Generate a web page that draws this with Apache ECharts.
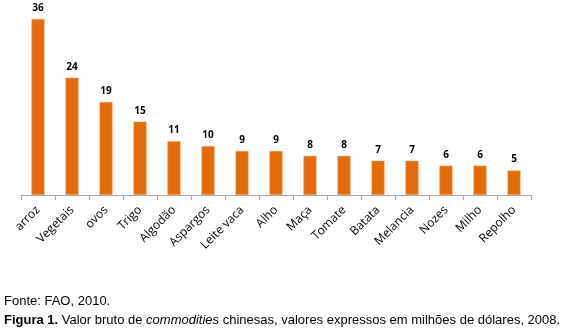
<!DOCTYPE html>
<html><head><meta charset="utf-8">
<script src="https://cdn.jsdelivr.net/npm/echarts@6/dist/echarts.min.js"></script>
<style>html,body{margin:0;padding:0;background:#fff}#c{width:577px;height:331px}</style>
</head><body><div id="c"></div>
<script>
const categories = ['arroz','Vegetais','ovos','Trigo','Algodão','Aspargos','Leite vaca','Alho','Maça','Tomate','Batata','Melancia','Nozes','Milho','Repolho'];
const values = [36,24,19,15,11,10,9,9,8,8,7,7,6,6,5];

const chart = echarts.init(document.getElementById('c'));
chart.setOption({
  animation:false,
  grid:{left:21,right:46,top:19,bottom:136,containLabel:false},
  xAxis:{type:'category',data:categories,
    axisLine:{lineStyle:{color:'#a6a6a6'}},
    axisTick:{show:true,length:5,lineStyle:{color:'#a6a6a6'}},
    axisLabel:{rotate:45,interval:0,fontFamily:'Open Sans',fontSize:12,color:'#000',margin:13,padding:[0,0,0,0]}},
  yAxis:{type:'value',min:0,max:36,show:false,splitLine:{show:false}},
  series:[{type:'bar',data:values,barWidth:13,
    itemStyle:{color:'#E46C0A',borderColor:'#F0A060',borderWidth:0.5},
    label:{show:true,position:'top',distance:6,fontFamily:'Open Sans',fontWeight:'bold',fontSize:10,color:'#000'}}],
  graphic:[
    {type:'text',left:4,top:295,style:{text:'Fonte: FAO, 2010.',font:'13px "Liberation Sans", Arial',fill:'#000'}},
    {type:'text',left:4,top:314,style:{
      text:'{b|Figura 1.} Valor bruto de {i|commodities} chinesas, valores expressos em milhões de dólares, 2008.',
      font:'13px "Liberation Sans", Arial',fill:'#000',
      rich:{b:{fontWeight:'bold',fontFamily:'Liberation Sans',fontSize:13,fill:'#000'},i:{fontStyle:'italic',fontFamily:'Liberation Sans',fontSize:13}}}}
  ]
});
</script></body></html>
